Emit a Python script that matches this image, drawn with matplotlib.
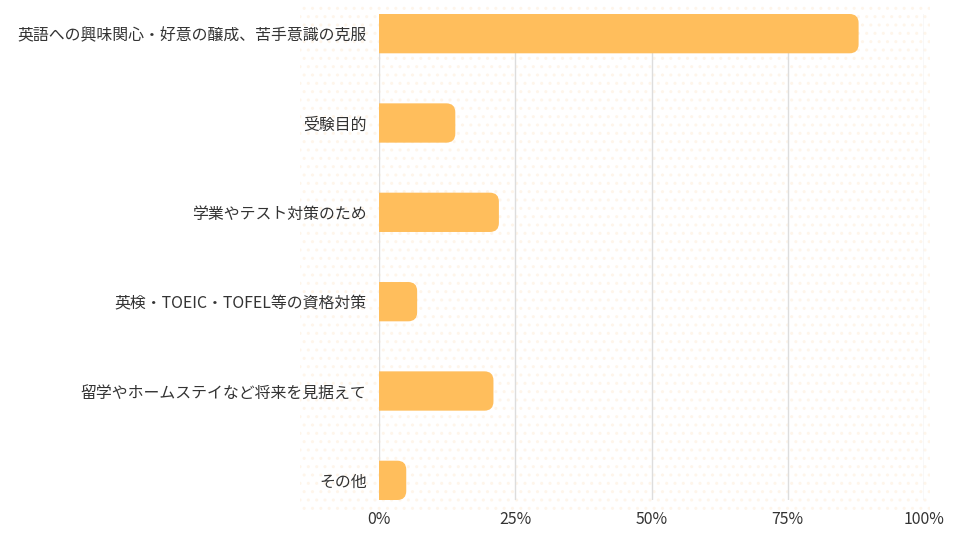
import matplotlib.pyplot as plt
from matplotlib.patches import FancyBboxPatch, Rectangle

plt.rcParams['font.family'] = ['Noto Sans CJK JP', 'DejaVu Sans']
plt.rcParams['hatch.linewidth'] = 1.0

# データ
categories = [
    '英語への興味関心・好意の醸成、苦手意識の克服',
    '受験目的',
    '学業やテスト対策のため',
    '英検・TOEIC・TOFEL等の資格対策',
    '留学やホームステイなど将来を見据えて',
    'その他',
]
values = [88, 14, 22, 7, 21, 5]
ticks = [0, 25, 50, 75, 100]
tick_labels = ['0%', '25%', '50%', '75%', '100%']

bar_color = '#ffbe5c'
bar_h = 0.44

fig = plt.figure(figsize=(9.6, 5.4), dpi=100)

# 背景のドット模様
bg_ax = fig.add_axes([300 / 960, 30 / 540, 630 / 960, 505 / 540], zorder=-1)
bg_ax.axis('off')
bg_ax.add_patch(Rectangle((0, 0), 1, 1, transform=bg_ax.transAxes,
                          facecolor='white', edgecolor='#fef5ea',
                          hatch='..', linewidth=0))

ax = fig.add_axes([379 / 960, 40 / 540, 545 / 960, 486 / 540])
ax.set_facecolor('none')

n = len(categories)
ax.set_xlim(0, 100)
ax.set_ylim(n - 1 + 0.22, -0.22)

# 角丸のアスペクト補正
x_per_px = 100 / 545
y_per_px = (n - 1 + 0.44) / 486
aspect = y_per_px / x_per_px
r = 9 * x_per_px

for i, v in enumerate(values):
    p = FancyBboxPatch((-r * 2, i - bar_h / 2), v + r * 2, bar_h,
                       boxstyle=f'round,pad=0,rounding_size={r}',
                       mutation_aspect=aspect, facecolor=bar_color,
                       edgecolor='none', zorder=3)
    ax.add_patch(p)

ax.set_yticks(range(n))
ax.set_yticklabels(categories)
ax.set_xticks(ticks)
ax.set_xticklabels(tick_labels)
ax.tick_params(axis='both', length=0, labelsize=11.45, colors='#333333')
ax.tick_params(axis='y', pad=9)
ax.tick_params(axis='x', pad=8)
ax.grid(axis='x', color='#dddddd', linewidth=1, zorder=1)
for s in ax.spines.values():
    s.set_visible(False)

fig.savefig('out.png', dpi=100)
plt.close(fig)
